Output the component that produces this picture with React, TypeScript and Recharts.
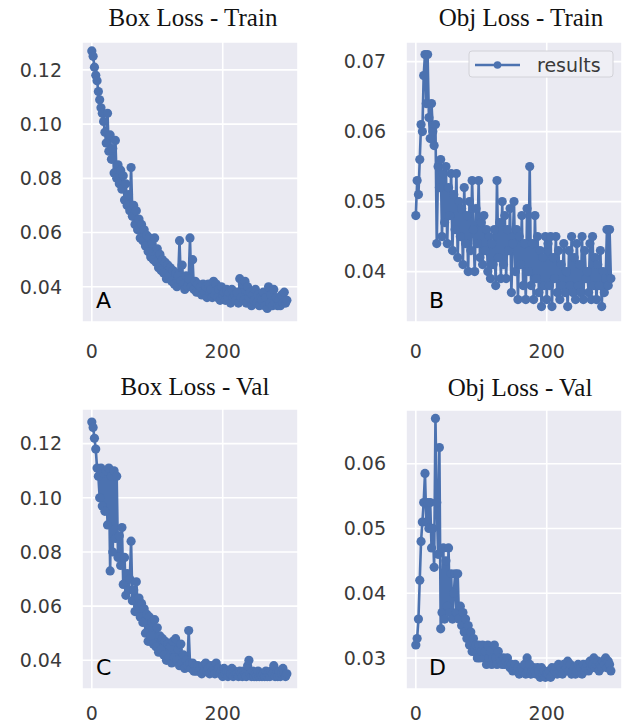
import { LineChart, Line, XAxis, YAxis, CartesianGrid } from 'recharts';

// epochs sampled every 2nd epoch
const epochs = Array.from({ length: 150 }, (_, i) => i * 2);

const boxTrain = [
    0.127, 0.125, 0.121, 0.118, 0.116, 0.112, 0.109, 0.106, 0.104, 0.101, 0.097,
    0.093, 0.104, 0.090, 0.096, 0.087, 0.091, 0.082, 0.094, 0.080, 0.085,
    0.078, 0.083, 0.076, 0.081, 0.072, 0.078, 0.070, 0.074, 0.068, 0.084,
    0.066, 0.070, 0.063, 0.068, 0.061, 0.065, 0.058, 0.063, 0.057, 0.061,
    0.055, 0.059, 0.053, 0.058, 0.051, 0.056, 0.050, 0.058, 0.049, 0.054,
    0.047, 0.052, 0.046, 0.050, 0.045, 0.049, 0.043, 0.048, 0.044, 0.047,
    0.042, 0.046, 0.041, 0.045, 0.040, 0.044, 0.057, 0.042, 0.048, 0.041,
    0.039, 0.044, 0.040, 0.043, 0.058, 0.040, 0.050, 0.039, 0.042, 0.038,
    0.041, 0.038, 0.040, 0.037, 0.041, 0.038, 0.040, 0.036, 0.041, 0.038,
    0.039, 0.036, 0.042, 0.037, 0.041, 0.036, 0.039, 0.035, 0.040, 0.037,
    0.038, 0.035, 0.039, 0.036, 0.038, 0.034, 0.039, 0.036, 0.037, 0.035,
    0.038, 0.034, 0.043, 0.036, 0.041, 0.035, 0.042, 0.034, 0.040, 0.036,
    0.038, 0.033, 0.037, 0.035, 0.039, 0.034, 0.037, 0.033, 0.036, 0.035,
    0.038, 0.033, 0.036, 0.032, 0.040, 0.034, 0.037, 0.033, 0.039, 0.034,
    0.036, 0.033, 0.035, 0.033, 0.037, 0.034, 0.038, 0.034, 0.035,
];

const objTrain = [
    0.048, 0.053, 0.051, 0.056, 0.061, 0.060, 0.068, 0.071, 0.064, 0.071, 0.062,
    0.059, 0.064, 0.060, 0.058, 0.061, 0.044, 0.055, 0.052, 0.056, 0.045,
    0.054, 0.047, 0.055, 0.044, 0.052, 0.048, 0.054, 0.043, 0.051, 0.046,
    0.054, 0.042, 0.050, 0.045, 0.049, 0.041, 0.052, 0.044, 0.048, 0.040,
    0.050, 0.043, 0.053, 0.046, 0.040, 0.049, 0.044, 0.053, 0.042, 0.047,
    0.041, 0.048, 0.043, 0.046, 0.040, 0.045, 0.039, 0.044, 0.041, 0.046,
    0.038, 0.053, 0.042, 0.047, 0.039, 0.050, 0.041, 0.048, 0.039, 0.046,
    0.043, 0.049, 0.037, 0.044, 0.050, 0.040, 0.046, 0.036, 0.045, 0.041,
    0.048, 0.038, 0.044, 0.036, 0.049, 0.040, 0.055, 0.038, 0.044, 0.036,
    0.048, 0.039, 0.045, 0.037, 0.043, 0.035, 0.042, 0.038, 0.045, 0.036,
    0.044, 0.038, 0.045, 0.035, 0.042, 0.039, 0.045, 0.037, 0.043, 0.036,
    0.041, 0.038, 0.044, 0.037, 0.040, 0.035, 0.043, 0.038, 0.045, 0.037,
    0.042, 0.036, 0.044, 0.038, 0.041, 0.037, 0.045, 0.036, 0.043, 0.039,
    0.040, 0.037, 0.044, 0.036, 0.045, 0.038, 0.042, 0.036, 0.041, 0.038,
    0.043, 0.035, 0.040, 0.037, 0.039, 0.046, 0.038, 0.046, 0.039,
];

const boxVal = [
    0.128, 0.126, 0.122, 0.118, 0.111, 0.108, 0.100, 0.111, 0.097, 0.109, 0.095,
    0.110, 0.090, 0.111, 0.073, 0.108, 0.080, 0.110, 0.085, 0.108, 0.078,
    0.086, 0.075, 0.089, 0.068, 0.078, 0.064, 0.072, 0.066, 0.070, 0.084,
    0.062, 0.066, 0.058, 0.069, 0.060, 0.063, 0.056, 0.061, 0.054, 0.059,
    0.050, 0.057, 0.047, 0.056, 0.049, 0.054, 0.046, 0.055, 0.045, 0.052,
    0.043, 0.049, 0.044, 0.048, 0.042, 0.047, 0.040, 0.046, 0.041, 0.045,
    0.039, 0.047, 0.041, 0.048, 0.040, 0.044, 0.038, 0.046, 0.039, 0.042,
    0.037, 0.040, 0.038, 0.051, 0.039, 0.037, 0.039, 0.036, 0.038, 0.036,
    0.038, 0.036, 0.037, 0.035, 0.038, 0.036, 0.039, 0.036, 0.037, 0.035,
    0.038, 0.036, 0.037, 0.035, 0.039, 0.036, 0.037, 0.035, 0.036, 0.034,
    0.037, 0.035, 0.036, 0.034, 0.036, 0.035, 0.037, 0.034, 0.036, 0.035,
    0.035, 0.034, 0.036, 0.035, 0.034, 0.036, 0.035, 0.034, 0.038, 0.040,
    0.035, 0.034, 0.036, 0.034, 0.035, 0.034, 0.036, 0.034, 0.035, 0.034,
    0.035, 0.034, 0.036, 0.034, 0.035, 0.034, 0.036, 0.035, 0.038, 0.034,
    0.035, 0.034, 0.036, 0.034, 0.035, 0.037, 0.035, 0.034, 0.035,
];

const objVal = [
    0.032, 0.033, 0.036, 0.042, 0.048, 0.051, 0.054, 0.0585, 0.051, 0.054, 0.050,
    0.054, 0.047, 0.050, 0.044, 0.067, 0.054, 0.046, 0.0625, 0.0345, 0.037,
    0.047, 0.036, 0.045, 0.038, 0.047, 0.037, 0.043, 0.036, 0.040, 0.043,
    0.037, 0.043, 0.036, 0.038, 0.035, 0.037, 0.034, 0.036, 0.033, 0.035,
    0.032, 0.034, 0.031, 0.033, 0.031, 0.032, 0.030, 0.032, 0.030, 0.031,
    0.032, 0.030, 0.031, 0.029, 0.032, 0.030, 0.031, 0.029, 0.030, 0.032,
    0.030, 0.029, 0.031, 0.030, 0.0295, 0.029, 0.030, 0.029, 0.0295, 0.030,
    0.029, 0.0285, 0.029, 0.028, 0.0285, 0.029, 0.028, 0.0285, 0.0275, 0.028,
    0.0285, 0.028, 0.029, 0.0275, 0.030, 0.028, 0.029, 0.0275, 0.028, 0.0285,
    0.028, 0.0275, 0.0285, 0.028, 0.027, 0.0285, 0.0275, 0.028, 0.027, 0.0275,
    0.0275, 0.028, 0.027, 0.0285, 0.0275, 0.028, 0.0285, 0.0275, 0.029, 0.028,
    0.0285, 0.0275, 0.029, 0.028, 0.0285, 0.0295, 0.028, 0.029, 0.0275, 0.028,
    0.0285, 0.0275, 0.028, 0.029, 0.028, 0.0285, 0.0275, 0.029, 0.028, 0.0285,
    0.029, 0.028, 0.0295, 0.0285, 0.029, 0.030, 0.0285, 0.029, 0.0295, 0.028,
    0.029, 0.0285, 0.0295, 0.029, 0.030, 0.0285, 0.0295, 0.029, 0.028,
];

const xTicks = [0, 200];
const boxTicks = [0.04, 0.06, 0.08, 0.1, 0.12];
const objTrainTicks = [0.04, 0.05, 0.06, 0.07];
const objValTicks = [0.03, 0.04, 0.05, 0.06];

const BLUE = '#4C72B0';
const tickStyle = { fill: '#3a3a3a', fontSize: 19, fontFamily: 'DejaVu Sans' };

function Panel({ values, ticks, domain, left, top, yWidth, marginTop, marginRight, xHeight }: any) {
    const data = epochs.map((e, i) => ({ epoch: e, v: values[i] }));
    return (
        <div style={{ position: 'absolute', left, top }}>
            <LineChart width={311} height={362} data={data} margin={{ top: marginTop, right: marginRight, bottom: 0, left: 0 }}>
                <CartesianGrid fill="#EAEAF2" stroke="#ffffff" strokeWidth={1.6} />
                <XAxis
                    dataKey="epoch"
                    type="number"
                    domain={[-15, 315]}
                    ticks={xTicks}
                    allowDataOverflow
                    axisLine={false}
                    tickLine={false}
                    tickSize={0}
                    tickMargin={xHeight - 17}
                    height={xHeight}
                    tick={tickStyle}
                />
                <YAxis
                    type="number"
                    domain={domain}
                    ticks={ticks}
                    allowDataOverflow
                    axisLine={false}
                    tickLine={false}
                    tickSize={0}
                    tickMargin={20}
                    width={yWidth}
                    tick={tickStyle}
                    tickFormatter={(v: number) => v.toFixed(2)}
                />
                <Line
                    type="linear"
                    dataKey="v"
                    stroke={BLUE}
                    strokeWidth={2.6}
                    dot={{ r: 4.6, fill: BLUE, stroke: BLUE, strokeWidth: 0 }}
                    isAnimationActive={false}
                />
            </LineChart>
        </div>
    );
}

export default function App() {
    const serif = { fontFamily: 'Liberation Serif', fontSize: 25, fill: '#111' };
    const letter = { fontFamily: 'DejaVu Sans', fontSize: 22, fill: '#000' };
    return (
        <div style={{ position: 'absolute', left: 0, top: 0, width: 622, height: 724, background: '#fff', overflow: 'hidden' }}>
            <Panel values={boxTrain} ticks={boxTicks} domain={[0.027, 0.1303]} left={0} top={0} yWidth={82} marginTop={42} marginRight={13} xHeight={40} />
            <Panel values={objTrain} ticks={objTrainTicks} domain={[0.0328, 0.0728]} left={311} top={0} yWidth={95} marginTop={42} marginRight={0} xHeight={40} />
            <Panel values={boxVal} ticks={boxTicks} domain={[0.0294, 0.1328]} left={0} top={362} yWidth={82} marginTop={47} marginRight={13} xHeight={35} />
            <Panel values={objVal} ticks={objValTicks} domain={[0.0252, 0.0683]} left={311} top={362} yWidth={95} marginTop={48} marginRight={0} xHeight={35} />
            <svg width={622} height={724} style={{ position: 'absolute', left: 0, top: 0, pointerEvents: 'none' }}>
                <text x={193} y={26} textAnchor="middle" style={serif}>Box Loss - Train</text>
                <text x={521} y={26} textAnchor="middle" style={serif}>Obj Loss - Train</text>
                <text x={195} y={395} textAnchor="middle" style={serif}>Box Loss - Val</text>
                <text x={520} y={396} textAnchor="middle" style={serif}>Obj Loss - Val</text>
                <text x={96} y={308} style={letter}>A</text>
                <text x={429} y={308} style={letter}>B</text>
                <text x={96} y={675} style={letter}>C</text>
                <text x={429} y={675} style={letter}>D</text>
                <rect x={469} y={51} width={144} height={26} rx={3} fill="#EFEFF5" stroke="#D2D2D8" strokeWidth={1} />
                <line x1={475} y1={65} x2={520} y2={65} stroke={BLUE} strokeWidth={2.6} />
                <circle cx={497.5} cy={65} r={3.8} fill={BLUE} />
                <text x={537} y={72} style={{ fontFamily: 'DejaVu Sans', fontSize: 19, fill: '#3a3a3a' }}>results</text>
            </svg>
        </div>
    );
}
